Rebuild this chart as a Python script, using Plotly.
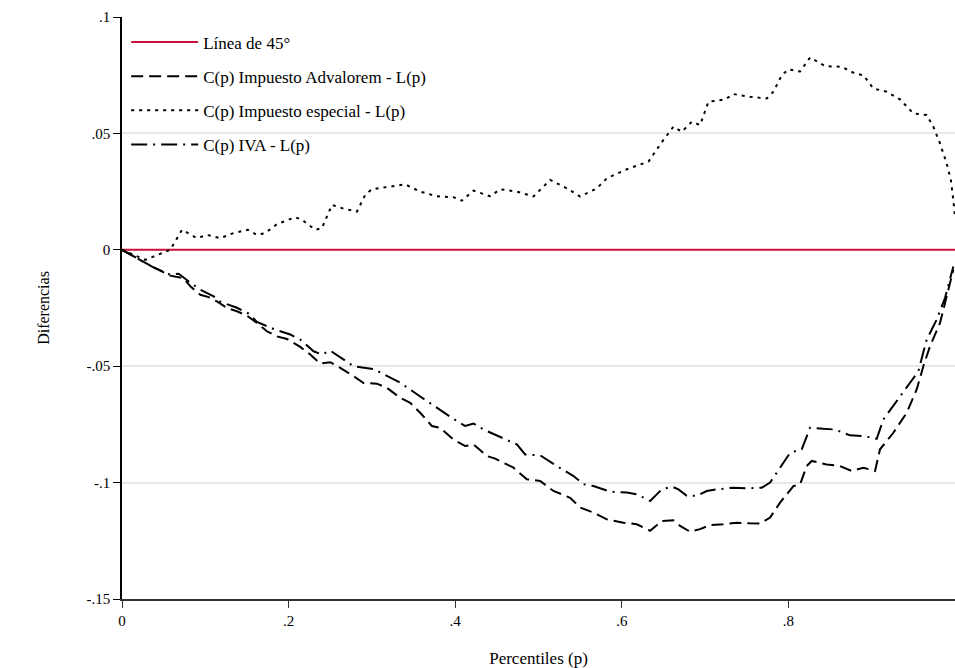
import plotly.graph_objects as go

# ---- data ----
perc_45 = [0.0, 1.0]
dif_45 = [0.0, 0.0]

perc_adv = [0, .036, .058, .074, .082, .094, .104, .114, .126, .138, .150, .162, .174, .186, .198,
            .214, .226, .238, .250, .262, .278, .290, .306, .318, .334, .346, .358, .372, .382, .398,
            .412, .422, .438, .448, .462, .470, .486, .502, .518, .538, .550, .566, .582, .602, .618,
            .634, .648, .662, .670, .682, .694, .706, .722, .738, .754, .766, .778, .790, .806, .814,
            .822, .828, .846, .862, .876, .890, .904, .910, .926, .942, .954, .962, .970, .982, .990, .998]
dif_adv = [0, -.0072, -.0111, -.0122, -.0157, -.0193, -.0203, -.0222, -.025, -.0264, -.0283, -.0314,
           -.035, -.0372, -.0383, -.0417, -.045, -.0489, -.0483, -.0507, -.0543, -.0572, -.0575, -.0593,
           -.0636, -.0657, -.070, -.0757, -.0765, -.0815, -.0843, -.0836, -.0886, -.0897, -.0922, -.0936,
           -.0986, -.0993, -.1036, -.1065, -.1107, -.1129, -.1158, -.1172, -.1179, -.1207, -.1165, -.1162,
           -.1186, -.1211, -.120, -.1182, -.1179, -.1172, -.1175, -.1176, -.115, -.1086, -.1015, -.1008,
           -.0929, -.0907, -.0922, -.0929, -.095, -.0936, -.095, -.0857, -.0786, -.070, -.060, -.050,
           -.0414, -.0314, -.020, -.0086]

perc_esp = [0, .028, .058, .072, .090, .102, .118, .134, .151, .162, .172, .186, .208, .216, .232,
            .240, .252, .264, .282, .292, .300, .318, .340, .358, .378, .398, .408, .422, .442, .454,
            .474, .494, .514, .534, .550, .570, .582, .606, .632, .650, .662, .672, .684, .694, .704,
            .724, .734, .754, .774, .782, .792, .800, .814, .826, .844, .864, .880, .890, .902, .918,
            .934, .950, .966, .974, .982, .990, .995, .998, 1.0]
dif_esp = [0, -.0043, 0, .0086, .005, .0064, .005, .0072, .0086, .0064, .0072, .011, .014, .0129,
           .0086, .0093, .0193, .0179, .0164, .0236, .026, .027, .0281, .025, .023, .0226, .0211, .0254,
           .023, .026, .025, .0229, .030, .0264, .0229, .0264, .0307, .0346, .0379, .0472, .0529, .0507,
           .055, .0536, .0636, .0646, .0669, .0657, .065, .0679, .075, .0775, .0766, .0826, .0789, .0786,
           .0757, .075, .0693, .0679, .0646, .0586, .0579, .0529, .0457, .0371, .030, .0214, .0143]

perc_iva = [0, .036, .058, .068, .082, .094, .110, .118, .138, .152, .162, .182, .202, .214, .230,
            .240, .250, .278, .302, .334, .358, .382, .396, .412, .422, .434, .452, .466, .474, .484,
            .502, .522, .542, .554, .566, .586, .606, .618, .634, .648, .660, .668, .678, .690, .702,
            .714, .734, .750, .768, .778, .790, .802, .816, .826, .842, .856, .874, .890, .906, .914,
            .930, .946, .956, .966, .978, .988, .998]
dif_iva = [0, -.0072, -.0107, -.0103, -.0141, -.0171, -.020, -.0223, -.0249, -.0274, -.031, -.034,
           -.0364, -.0386, -.0436, -.045, -.0433, -.050, -.0512, -.0571, -.063, -.069, -.0722, -.0757,
           -.0746, -.0772, -.080, -.0822, -.0836, -.0879, -.0883, -.0929, -.0972, -.1007, -.1015, -.1039,
           -.1043, -.105, -.1079, -.1029, -.1017, -.1029, -.1057, -.1057, -.1036, -.1029, -.1022, -.1025,
           -.1022, -.100, -.0936, -.0872, -.0857, -.0764, -.0769, -.0772, -.0797, -.080, -.0812, -.0729,
           -.065, -.0572, -.0522, -.0386, -.030, -.0207, -.0072]

names = ["Línea de 45°", "C(p) Impuesto Advalorem - L(p)",
         "C(p) Impuesto especial - L(p)", "C(p) IVA - L(p)"]

y_ticks = [-.15, -.1, -.05, 0, .05, .1]
y_ticktext = ["-.15", "-.1", "-.05", "0", ".05", ".1"]
x_ticks = [0, .2, .4, .6, .8]
x_ticktext = ["0", ".2", ".4", ".6", ".8"]

FONT = "Liberation Serif"

fig = go.Figure()
series = [
    (perc_45, dif_45, dict(color="#C8143C", width=2, dash="solid")),
    (perc_adv, dif_adv, dict(color="black", width=2, dash="12px,6px")),
    (perc_esp, dif_esp, dict(color="black", width=2, dash="3px,5px")),
    (perc_iva, dif_iva, dict(color="black", width=2, dash="16px,6px,2px,6px")),
]
for i, (xs, ys, ln) in enumerate(series):
    fig.add_trace(go.Scatter(x=xs, y=ys, mode="lines", name=names[i], line=ln,
                             legendgroup=f"g{i}"))

fig.update_layout(
    width=955, height=668,
    margin=dict(l=122, r=0, t=17, b=69),
    paper_bgcolor="white", plot_bgcolor="white",
    font=dict(family=FONT, size=15, color="black"),
    showlegend=True,
    legend=dict(x=0.005, y=0.987, xanchor="left", yanchor="top",
                bgcolor="rgba(0,0,0,0)", font=dict(family=FONT, size=17),
                tracegroupgap=9, itemwidth=67),
    xaxis=dict(range=[0, 1.0], tickvals=x_ticks, ticktext=x_ticktext,
               showgrid=False, zeroline=False, showline=True, linecolor="#333333",
               linewidth=2, ticks="outside", ticklen=7, tickcolor="#333333",
               title=dict(text="Percentiles (p)", standoff=25, font=dict(size=17)),
               tickfont=dict(size=15)),
    yaxis=dict(range=[-0.15, 0.1], tickvals=y_ticks, ticktext=y_ticktext,
               showgrid=True, gridcolor="#E8E8E8", gridwidth=1.5, zeroline=False,
               showline=True, linecolor="black", linewidth=1.5, ticks="outside",
               ticklen=7, tickcolor="black",
               title=dict(text="Diferencias", standoff=33, font=dict(size=16)),
               tickfont=dict(size=15)),
)

fig.write_html("out.html")
